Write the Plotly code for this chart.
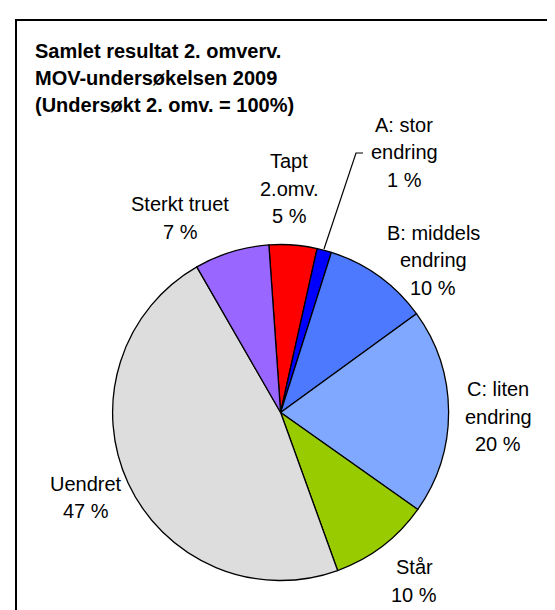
import plotly.graph_objects as go

# Data (share of area examined in 2nd round)
labels = ["Tapt 2.omv.", "A: stor endring", "B: middels endring", "C: liten endring",
          "Står", "Uendret", "Sterkt truet"]
label_lines = [["Tapt", "2.omv."], ["A: stor", "endring"], ["B: middels", "endring"],
               ["C: liten", "endring"], ["Står"], ["Uendret"], ["Sterkt truet"]]
values = [4.6, 1.4, 10.1, 19.8, 9.7, 47.2, 7.2]
colors = ["#FF0000", "#0000FF", "#4D79FF", "#80A8FF", "#99CC00", "#DDDDDD", "#9966FF"]
title_lines = ["Samlet resultat 2. omverv.", "MOV-undersøkelsen 2009",
               "(Undersøkt 2. omv. = 100%)"]

W, H = 555, 610
FONT = "Liberation Sans, Arial, sans-serif"

# label block centres in pixels (x, y of first line)
label_pos = {
    "Tapt 2.omv.": (281, 153),
    "A: stor endring": (396, 117),
    "B: middels endring": (425, 225),
    "C: liten endring": (490, 381),
    "Står": (406, 559),
    "Uendret": (78, 476),
    "Sterkt truet": (172, 196),
}
LINE_GAP = 27.5

cx, cy, r = 272.6, 404.5, 168

fig = go.Figure(
    go.Pie(
        labels=labels,
        values=values,
        sort=False,
        direction="clockwise",
        rotation=-4,
        marker={"colors": colors, "line": {"color": "black", "width": 1.3}},
        textinfo="none",
        hoverinfo="label+percent",
        domain={"x": [(cx - r) / W, (cx + r) / W], "y": [1 - (cy + r) / H, 1 - (cy - r) / H]},
    )
)

total = sum(values)
for name, lines, v in zip(labels, label_lines, values):
    x, y = label_pos[name]
    for i, txt in enumerate(lines + [f"{round(v / total * 100)} %"]):
        fig.add_annotation(
            text=txt, x=x / W, y=1 - (y + i * LINE_GAP) / H,
            xref="paper", yref="paper", xanchor="center", yanchor="middle",
            showarrow=False, font={"family": FONT, "size": 20, "color": "black"},
        )

for i, txt in enumerate(title_lines):
    fig.add_annotation(
        text=f"<b>{txt}</b>", x=25 / W, y=1 - (42.5 + i * 27) / H,
        xref="paper", yref="paper", xanchor="left", yanchor="middle",
        showarrow=False, font={"family": FONT, "size": 20, "color": "black"},
    )

# leader line for the small A slice
fig.add_shape(
    type="path", xref="paper", yref="paper",
    path=f"M {316 / W},{1 - 241 / H} L {348 / W},{1 - 145 / H} L {355 / W},{1 - 145 / H}",
    line={"color": "black", "width": 1.2},
)
# chart frame (right and bottom edges fall outside the picture)
fig.add_shape(
    type="path", xref="paper", yref="paper",
    path=f"M {8 / W},-0.05 L {8 / W},{1 - 12 / H} L 1.05,{1 - 12 / H}",
    line={"color": "black", "width": 2},
)

fig.update_layout(
    width=W, height=H,
    margin={"l": 0, "r": 0, "t": 0, "b": 0},
    paper_bgcolor="white",
    showlegend=False,
    font={"family": FONT},
)

fig.write_html("out.html")
